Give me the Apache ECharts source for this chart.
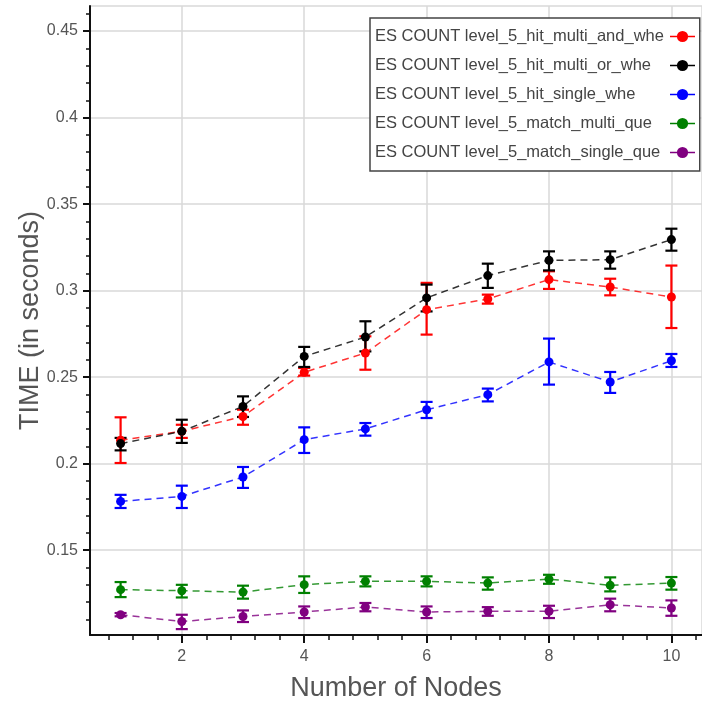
<!DOCTYPE html>
<html>
<head>
<meta charset="utf-8">
<script src="https://cdn.jsdelivr.net/npm/echarts@6/dist/echarts.min.js"></script>
<style>
html,body{margin:0;padding:0;background:#fff;}
#chart{width:702px;height:703px;}
</style>
</head>
<body>
<div id="chart"></div>
<script>
var nodes = [1, 2, 3, 4, 5, 6, 7, 8, 9, 10];

var seriesNames = [
  'ES COUNT level_5_hit_multi_and_whe',
  'ES COUNT level_5_hit_multi_or_whe',
  'ES COUNT level_5_hit_single_whe',
  'ES COUNT level_5_match_multi_que',
  'ES COUNT level_5_match_single_que'
];
var seriesColors = ['#ff0000', '#000000', '#0000ff', '#008000', '#800080'];

var multiAndMean = [0.2136, 0.2187, 0.2273, 0.2528, 0.2640, 0.2890, 0.2952, 0.3064, 0.3021, 0.2963];
var multiAndLow  = [0.2004, 0.2149, 0.2225, 0.2509, 0.2543, 0.2746, 0.2925, 0.3010, 0.2973, 0.2784];
var multiAndHigh = [0.2268, 0.2225, 0.2312, 0.2553, 0.2736, 0.3045, 0.2977, 0.3112, 0.3069, 0.3145];

var multiOrMean = [0.2116, 0.2187, 0.2331, 0.2620, 0.2732, 0.2958, 0.3087, 0.3175, 0.3179, 0.3295];
var multiOrLow  = [0.2077, 0.2120, 0.2270, 0.2559, 0.2649, 0.2880, 0.3016, 0.3117, 0.3127, 0.3231];
var multiOrHigh = [0.2149, 0.2254, 0.2389, 0.2675, 0.2823, 0.3035, 0.3156, 0.3227, 0.3227, 0.3358];

var singleWheMean = [0.1782, 0.1811, 0.1923, 0.2139, 0.2201, 0.2312, 0.2399, 0.2588, 0.2472, 0.2595];
var singleWheLow  = [0.1744, 0.1744, 0.1860, 0.2062, 0.2162, 0.2264, 0.2360, 0.2457, 0.2409, 0.2559];
var singleWheHigh = [0.1820, 0.1873, 0.1981, 0.2210, 0.2235, 0.2357, 0.2434, 0.2723, 0.2530, 0.2634];

var matchMultiMean = [0.1272, 0.1266, 0.1258, 0.1301, 0.1320, 0.1320, 0.1310, 0.1333, 0.1297, 0.1310];
var matchMultiLow  = [0.1229, 0.1227, 0.1220, 0.1253, 0.1291, 0.1291, 0.1272, 0.1306, 0.1262, 0.1272];
var matchMultiHigh = [0.1316, 0.1300, 0.1295, 0.1349, 0.1349, 0.1349, 0.1343, 0.1358, 0.1343, 0.1345];

var matchSingleMean = [0.1127, 0.1088, 0.1117, 0.1143, 0.1172, 0.1143, 0.1147, 0.1147, 0.1185, 0.1166];
var matchSingleLow  = [0.1118, 0.1044, 0.1085, 0.1108, 0.1147, 0.1108, 0.1121, 0.1108, 0.1147, 0.1121];
var matchSingleHigh = [0.1137, 0.1127, 0.1152, 0.1175, 0.1195, 0.1175, 0.1171, 0.1179, 0.1220, 0.1210];

var xTickLabels = [2, 4, 6, 8, 10];
var yTickLabels = [0.15, 0.2, 0.25, 0.3, 0.35, 0.4, 0.45];

var xMinorTicks = [];
for (var i = 1; i <= 26; i++) xMinorTicks.push(Math.round(i * 0.4 * 10) / 10);
var yMinorTicks = [];
for (var j = 11; j <= 46; j++) yMinorTicks.push(j / 100);

var means = [multiAndMean, multiOrMean, singleWheMean, matchMultiMean, matchSingleMean];
var lows = [multiAndLow, multiOrLow, singleWheLow, matchMultiLow, matchSingleLow];
var highs = [multiAndHigh, multiOrHigh, singleWheHigh, matchMultiHigh, matchSingleHigh];

var FONT = 'Liberation Sans, Arial, sans-serif';
var TEXT = '#555555';

var series = [];
means.forEach(function (m, k) {
  var errData = nodes.map(function (n, idx) { return [n, lows[k][idx], highs[k][idx]]; });
  series.push({
    type: 'custom',
    name: seriesNames[k] + ' error',
    xAxisIndex: 0, yAxisIndex: 0,
    z: 3,
    silent: true,
    data: errData,
    renderItem: function (params, api) {
      var x = api.value(0);
      var lo = api.coord([x, api.value(1)]);
      var hi = api.coord([x, api.value(2)]);
      var hw = 6;
      var style = { stroke: seriesColors[k], lineWidth: 2.2, fill: null };
      return {
        type: 'group',
        children: [
          { type: 'line', shape: { x1: lo[0], y1: lo[1], x2: hi[0], y2: hi[1] }, style: style },
          { type: 'line', shape: { x1: lo[0] - hw, y1: lo[1], x2: lo[0] + hw, y2: lo[1] }, style: style },
          { type: 'line', shape: { x1: hi[0] - hw, y1: hi[1], x2: hi[0] + hw, y2: hi[1] }, style: style }
        ]
      };
    }
  });
  series.push({
    type: 'line',
    name: seriesNames[k],
    xAxisIndex: 0, yAxisIndex: 0,
    z: 4,
    data: nodes.map(function (n, idx) { return [n, m[idx]]; }),
    symbol: 'circle',
    symbolSize: 9,
    showSymbol: true,
    itemStyle: { color: seriesColors[k] },
    lineStyle: { color: seriesColors[k], width: 1.5, type: [7, 5], opacity: 0.8 }
  });
});

var chart = echarts.init(document.getElementById('chart'), null, { renderer: 'canvas' });
chart.setOption({
  animation: false,
  backgroundColor: '#ffffff',
  textStyle: { fontFamily: FONT },
  grid: {
    left: 90, right: 0, top: 6, bottom: 68,
    containLabel: false,
    outerBoundsMode: 'none',
    show: true, borderColor: '#d9d9d9', borderWidth: 1.5, backgroundColor: 'transparent'
  },
  legend: {
    data: seriesNames,
    orient: 'vertical',
    align: 'right',
    left: 370, top: 18,
    padding: [10, 4, 10, 5],
    itemGap: 12,
    itemWidth: 25,
    itemHeight: 14,
    backgroundColor: '#ffffff',
    borderColor: '#444444',
    borderWidth: 1.5,
    lineStyle: { type: 'solid', width: 1.5, opacity: 1 },
    formatter: function (name) { return '{t|' + name + '}'; },
    textStyle: {
      fontFamily: FONT, fontSize: 16.5, color: '#444444', lineHeight: 14,
      rich: { t: { fontFamily: FONT, fontSize: 16.5, color: '#444444', width: 290, height: 14, lineHeight: 14, align: 'left' } }
    }
  },
  xAxis: [{
    type: 'value',
    min: 0.5, max: 10.5,
    position: 'bottom',
    name: 'Number of Nodes',
    nameLocation: 'middle',
    nameGap: 40,
    nameMoveOverlap: false,
    nameTextStyle: { fontFamily: FONT, fontSize: 27, color: TEXT },
    axisLine: { show: true, onZero: false, lineStyle: { color: '#111111', width: 2 } },
    axisTick: { show: true, inside: false, length: 8, customValues: xTickLabels, lineStyle: { color: '#111111', width: 2 } },
    axisLabel: { show: true, customValues: xTickLabels, margin: 14, fontFamily: FONT, fontSize: 16, color: TEXT },
    splitLine: { show: true, lineStyle: { color: '#d9d9d9', width: 1.5 } }
  }, {
    type: 'value',
    min: 0.5, max: 10.5,
    position: 'bottom',
    axisLine: { show: false, onZero: false },
    axisTick: { show: true, inside: false, length: 5, customValues: xMinorTicks, lineStyle: { color: '#111111', width: 1.5 } },
    axisLabel: { show: false },
    splitLine: { show: false }
  }],
  yAxis: [{
    type: 'value',
    min: 0.101, max: 0.4645,
    position: 'left',
    name: 'TIME (in seconds)',
    nameLocation: 'middle',
    nameGap: 46,
    nameMoveOverlap: false,
    nameTextStyle: { fontFamily: FONT, fontSize: 27, color: TEXT },
    axisLine: { show: true, onZero: false, lineStyle: { color: '#111111', width: 2 } },
    axisTick: { show: true, inside: false, length: 7, customValues: yTickLabels, lineStyle: { color: '#111111', width: 2 } },
    axisLabel: { show: true, customValues: yTickLabels, margin: 12, fontFamily: FONT, fontSize: 16, color: TEXT },
    splitLine: { show: true, lineStyle: { color: '#d9d9d9', width: 1.5 } }
  }, {
    type: 'value',
    min: 0.101, max: 0.4645,
    position: 'left',
    axisLine: { show: false, onZero: false },
    axisTick: { show: true, inside: false, length: 4, customValues: yMinorTicks, lineStyle: { color: '#111111', width: 1.5 } },
    axisLabel: { show: false },
    splitLine: { show: false }
  }],
  series: series
});
</script>
</body>
</html>
